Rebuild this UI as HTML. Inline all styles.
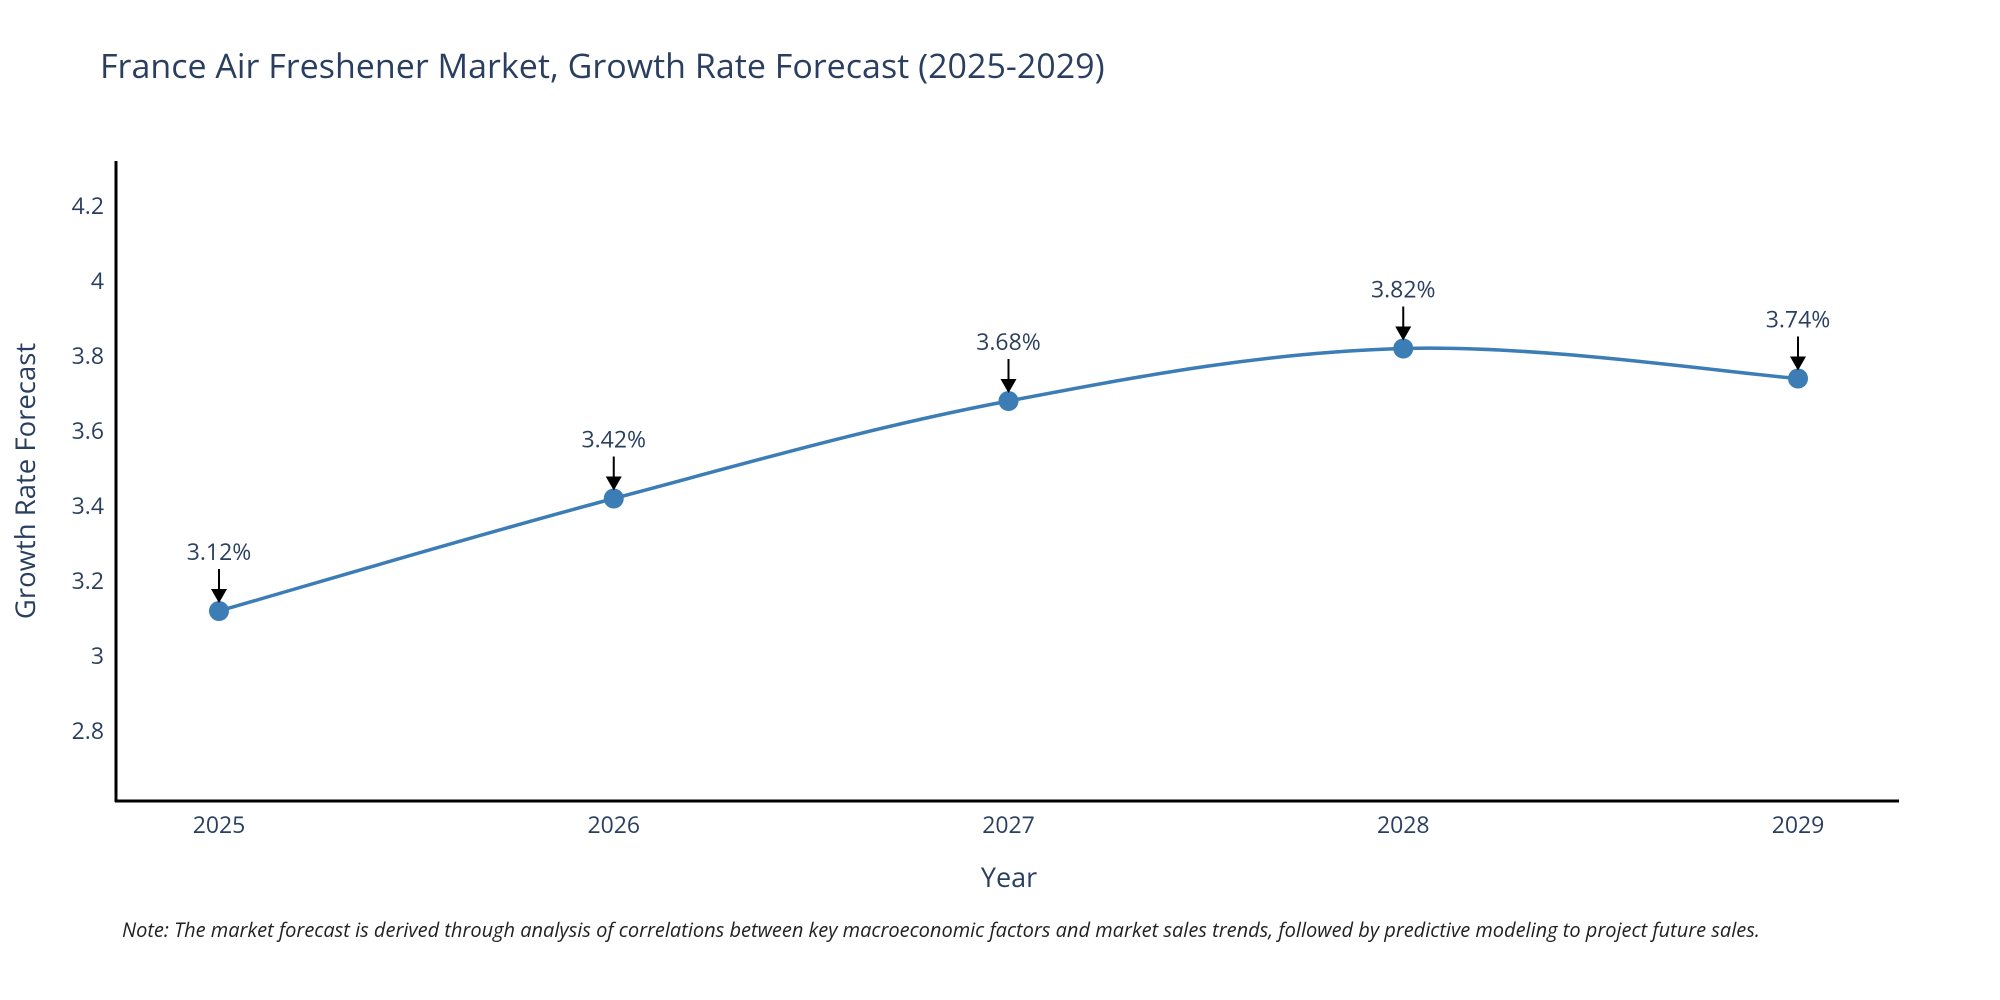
<!DOCTYPE html>
<html><head><meta charset="utf-8"><style>
body{margin:0;background:#fff;}
svg{display:block;font-family:"Open Sans","Liberation Sans",sans-serif;}
</style></head><body>
<svg id="chart" width="2000" height="1000">
<text x="100" y="78" font-size="34" fill="#2a3f5f">France Air Freshener Market, Growth Rate Forecast (2025-2029)</text>
<g id="yticks"></g><g id="xticks"></g>
<line x1="116" y1="161" x2="116" y2="802" stroke="#000" stroke-width="3"/>
<line x1="115" y1="801" x2="1899" y2="801" stroke="#000" stroke-width="3"/>
<path id="line" fill="none" stroke="#3b7db4" stroke-width="3.5"/>
<g id="marks"></g>
<text x="1009" y="887" font-size="27" fill="#2a3f5f" text-anchor="middle">Year</text>
<text transform="translate(35,481) rotate(-90)" font-size="27.5" fill="#2a3f5f" text-anchor="middle">Growth Rate Forecast</text>
<text x="122" y="937" font-size="20" font-style="italic" fill="#222">Note: The market forecast is derived through analysis of correlations between key macroeconomic factors and market sales trends, followed by predictive modeling to project future sales.</text>
</svg>
<script>
const years=["2025","2026","2027","2028","2029"];
const values=[3.12,3.42,3.68,3.82,3.74];
const labels=["3.12%","3.42%","3.68%","3.82%","3.74%"];
const yTicks=[2.8,3,3.2,3.4,3.6,3.8,4,4.2];
const NS="http://www.w3.org/2000/svg";
const xs=i=>219+i*(1798-219)/(years.length-1);
const ys=v=>731-(v-2.8)*375;
function mk(t,a,p){const e=document.createElementNS(NS,t);for(const k in a)e.setAttribute(k,a[k]);p.appendChild(e);return e;}
const yg=document.getElementById('yticks');
yTicks.forEach(v=>{const t=mk('text',{x:104,y:ys(v)+8,'font-size':23,fill:'#2a3f5f','text-anchor':'end'},yg);


t.textContent=String(v);});
const xg=document.getElementById('xticks');
years.forEach((y,i)=>{const t=mk('text',{x:xs(i),y:833,'font-size':23,fill:'#2a3f5f','text-anchor':'middle'},xg);


t.textContent=y;});
const P=values.map((v,i)=>[xs(i),ys(v)]);
let d='M'+P[0][0]+','+P[0][1];const s=0.35;
for(let i=0;i<P.length-1;i++){const p0=P[Math.max(i-1,0)],p1=P[i],p2=P[i+1],p3=P[Math.min(i+2,P.length-1)];
d+=` C${p1[0]+(p2[0]-p0[0])*s/2},${p1[1]+(p2[1]-p0[1])*s/2} ${p2[0]-(p3[0]-p1[0])*s/2},${p2[1]-(p3[1]-p1[1])*s/2} ${p2[0]},${p2[1]}`;}
document.getElementById('line').setAttribute('d',d);
const mg=document.getElementById('marks');
P.forEach((p,i)=>{
const c=mk('circle',{cx:p[0],cy:p[1],r:10,fill:'#3b7db4'},mg);


const l=mk('line',{x1:p[0],y1:p[1]-42,x2:p[0],y2:p[1]-20,stroke:'#000','stroke-width':2},mg);


const h=mk('polygon',{points:`${p[0]-8},${p[1]-22} ${p[0]+8},${p[1]-22} ${p[0]},${p[1]-8}`,fill:'#000'},mg);


const t=mk('text',{x:p[0],y:p[1]-51,'font-size':23,fill:'#2a3f5f','text-anchor':'middle'},mg);


t.textContent=labels[i];});
</script>
</body></html>
